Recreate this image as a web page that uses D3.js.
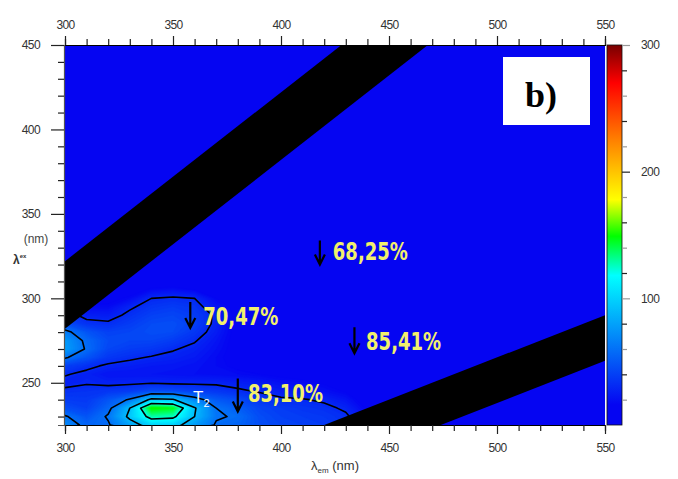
<!DOCTYPE html>
<html><head><meta charset="utf-8">
<script src="https://cdn.jsdelivr.net/npm/d3@7"></script>
<style>body{margin:0;background:#fff}svg{display:block}</style>
</head><body>
<svg id="c" width="678" height="479"></svg>
<script>
// ---------------- data ----------------
const emGrid = [300,310,320,330,340,350,360,370,380,390,400,410,420,430,440];
const exGrid = [225,230,235,240,245,250,255,260,265,270,275,280,285,290,295,300,305,310];
const backgroundIntensity = 8;
// intensity columns, one per emission wavelength (values for exGrid, bottom -> top)
const em300 = [70,62,45,38,33,26,31,40,62,78,76,65,45,36,32,28,20,12];
const em310 = [55,48,40,37,34,29,27,33,48,58,56,48,34,26,18,12,10,8];
const em320 = [58,62,55,48,36,27,22,28,36,42,44,40,32,25,18,12,10,8];
const em330 = [80,95,90,62,38,28,22,26,32,38,42,42,38,33,28,18,10,8];
const em340 = [100,128,150,95,45,29,22,24,29,36,42,45,44,40,35,30,18,8];
const em350 = [98,125,145,92,44,28,21,23,27,31,38,44,45,42,38,32,20,8];
const em360 = [78,90,92,68,40,28,20,21,24,27,31,36,40,38,35,30,16,8];
const em370 = [58,62,60,50,36,28,19,18,18,20,22,25,27,28,22,16,10,8];
const em380 = [55,58,52,44,32,26,18,14,12,12,12,12,12,12,12,10,8,8];
const em390 = [46,45,42,36,29,24,16,12,10,10,10,10,10,10,10,8,8,8];
const em400 = [42,40,38,32,25,20,14,10,9,9,9,9,9,9,8,8,8,8];
const em410 = [40,38,35,31,22,18,12,10,9,9,8,8,8,8,8,8,8,8];
const em420 = [38,36,33,28,20,15,10,9,8,8,8,8,8,8,8,8,8,8];
const em430 = [34,32,28,22,15,12,10,8,8,8,8,8,8,8,8,8,8,8];
const em440 = [25,20,14,10,8,8,8,8,8,8,8,8,8,8,8,8,8,8];
const intensityColumns = [em300,em310,em320,em330,em340,em350,em360,em370,em380,em390,em400,em410,em420,em430,em440];
const contourLevels = [30,60,90,120];

// Rayleigh scatter bands: ex = em/order + offset (lo..hi)
const bandOrder = [1, 2];
const bandLo = [-18, -12];
const bandHi = [22, 15];

// colour scale stops
const colorStopValues = [0,16,118,149,178,225,270,300];
const colorStopColors = ["#0505f2","#0505f2","#00ffff","#00ff00","#ffff00","#ff8000","#ff0000","#780000"];

const xTicks = [300,310,320,330,340,350,360,370,380,390,400,410,420,430,440,450,460,470,480,490,500,510,520,530,540,550];
const yTicks = [230,240,250,260,270,280,290,300,310,320,330,340,350,360,370,380,390,400,410,420,430,440,450];
const cTicks = [20,40,60,80,100,120,140,160,180,200,220,240,260,280,300];

const annText = ["68,25%","70,47%","85,41%","83,10%"];
const annArrowEm = [418,358,434,380];
const annArrowEx = [320,282.5,267.5,233];
const annArrowLen = [24,26,26,33];
const annTextEm = [424,364,439.4,384.7];
const annTextEx = [322.7,284.2,269.4,238.6];
const t2Em = 359.3, t2Ex = 238;

// ---------------- layout ----------------
const svg = d3.select("#c");
const L = 65, R = 605, T = 45, B = 425;
const x = d3.scaleLinear().domain([300,550]).range([L,R]);
const y = d3.scaleLinear().domain([225,450]).range([B,T]);
const color = d3.scaleLinear().domain(colorStopValues).range(colorStopColors).clamp(true);

svg.append("defs").append("clipPath").attr("id","plotclip")
  .append("rect").attr("x",L).attr("y",T).attr("width",R-L).attr("height",B-T);

const plot = svg.append("g").attr("clip-path","url(#plotclip)");
plot.append("rect").attr("x",L).attr("y",T).attr("width",R-L).attr("height",B-T)
  .attr("fill", color(backgroundIntensity));

// build row-major grid
const nx = emGrid.length, ny = exGrid.length;
const values = new Array(nx*ny);
for (let j=0;j<ny;j++) for (let i=0;i<nx;i++) values[j*nx+i] = intensityColumns[i][j];
const dEm = emGrid[1]-emGrid[0], dEx = exGrid[1]-exGrid[0];
const proj = d3.geoTransform({point: function(px,py){
  this.stream.point(x(emGrid[0]+(px-0.5)*dEm), y(exGrid[0]+(py-0.5)*dEx));
}});
const path = d3.geoPath(proj);

const fillThresholds = d3.range(16, 160, 2);
const fills = d3.contours().size([nx,ny]).thresholds(fillThresholds)(values);
plot.append("g").selectAll("path").data(fills).join("path")
  .attr("d", path).attr("fill", d => color(d.value + 1)).attr("stroke", d => color(d.value + 1)).attr("stroke-width",0.5);

const lines = d3.contours().size([nx,ny]).thresholds(contourLevels)(values);
plot.append("g").selectAll("path").data(lines).join("path")
  .attr("d", path).attr("fill","none").attr("stroke","#000").attr("stroke-width",1.6).attr("stroke-linejoin","round");

// scatter bands
bandOrder.forEach((o,k) => {
  const e0 = 300, e1 = 560;
  const pts = [[e0, e0/o + bandLo[k]],[e1, e1/o + bandLo[k]],[e1, e1/o + bandHi[k]],[e0, e0/o + bandHi[k]]];
  plot.append("path").attr("d", "M" + pts.map(p => x(p[0]) + "," + y(p[1])).join("L") + "Z").attr("fill","#000");
});

// white separator at plot right edge
svg.append("line").attr("x1",R+1).attr("x2",R+1).attr("y1",T).attr("y2",B).attr("stroke","#f4f4ff").attr("stroke-width",1.5);

// ---------------- axes ----------------
const tickFont = "'Liberation Sans', Arial, sans-serif";
function styleAxis(g) {
  g.select(".domain").attr("stroke","#000").attr("stroke-width",1.2);
  g.selectAll(".tick line").attr("stroke","#222").attr("stroke-width",1.2);
  g.selectAll(".tick text").attr("font-family",tickFont).attr("font-size",12).attr("fill","#333").attr("letter-spacing","-0.6");
}
const fmt = d => d % 50 === 0 ? d : "";

const gTop = svg.append("g").attr("transform",`translate(0,${T})`)
  .call(d3.axisTop(x).tickValues(xTicks).tickFormat(fmt).tickSizeOuter(0).tickSize(6).tickPadding(10));
styleAxis(gTop);
gTop.selectAll(".tick line").attr("y2", d => d%50===0 ? -9 : -6);

const gBot = svg.append("g").attr("transform",`translate(0,${B})`)
  .call(d3.axisBottom(x).tickValues(xTicks).tickFormat(fmt).tickSizeOuter(0).tickSize(6).tickPadding(12));
styleAxis(gBot);
gBot.selectAll(".tick line").attr("y2", d => d%50===0 ? 9 : 6);

const gLeft = svg.append("g").attr("transform",`translate(${L-1},0)`)
  .call(d3.axisLeft(y).tickValues(yTicks).tickFormat(fmt).tickSizeOuter(0).tickSize(6).tickPadding(18));
styleAxis(gLeft);
gLeft.selectAll(".tick line").attr("x2", d => d%50===0 ? -13 : -6);
gLeft.select(".domain").attr("stroke","#555");

// ---------------- colorbar ----------------
const cbX = 607, cbW = 15;
const cy = d3.scaleLinear().domain([0,300]).range([B,T]);
const grad = svg.select("defs").append("linearGradient").attr("id","cbgrad")
  .attr("x1",0).attr("y1",1).attr("x2",0).attr("y2",0);
colorStopValues.forEach((v,i) => grad.append("stop").attr("offset", v/300).attr("stop-color", colorStopColors[i]));
svg.append("rect").attr("x",cbX).attr("y",T).attr("width",cbW).attr("height",B-T)
  .attr("fill","url(#cbgrad)").attr("stroke","#111").attr("stroke-width",0.8);
const gCb = svg.append("g").attr("transform",`translate(${cbX+cbW},0)`)
  .call(d3.axisRight(cy).tickValues(cTicks).tickFormat(d => d%100===0 ? d : "").tickSizeOuter(0).tickSize(5).tickPadding(14));
gCb.select(".domain").remove();
gCb.selectAll(".tick line").attr("stroke", d => d%40===0 ? "#222" : "#999").attr("stroke-width",1.2)
  .attr("x2", d => d%100===0 ? 8 : 5);
gCb.selectAll(".tick text").attr("font-family",tickFont).attr("font-size",12).attr("fill","#333").attr("letter-spacing","-0.6");

// ---------------- axis titles ----------------
const bt = svg.append("text").attr("x",335).attr("y",470).attr("text-anchor","middle")
  .attr("font-family",tickFont).attr("font-size",13).attr("fill","#333");
bt.append("tspan").text("λ");
bt.append("tspan").attr("font-size",8).attr("dy",3).text("em");
bt.append("tspan").attr("dy",-3).text(" (nm)");

svg.append("text").attr("x",36).attr("y",243).attr("text-anchor","middle")
  .attr("font-family",tickFont).attr("font-size",12).attr("fill","#444").text("(nm)");
const lt = svg.append("text").attr("x",13).attr("y",264).attr("font-family",tickFont).attr("font-size",12).attr("font-weight","bold").attr("fill","#333");
lt.append("tspan").text("λ");
lt.append("tspan").attr("font-size",6).attr("dy",-6).text("ex");

// ---------------- annotations ----------------
const ann = svg.append("g");
annText.forEach((t,i) => {
  const ax = x(annArrowEm[i]), ay = y(annArrowEx[i]);
  ann.append("path")
    .attr("d", `M${ax},${ay-annArrowLen[i]}L${ax},${ay}M${ax-5},${ay-10}L${ax},${ay}L${ax+5},${ay-10}`)
    .attr("fill","none").attr("stroke","#000").attr("stroke-width",2.2);
  ann.append("text").attr("x", x(annTextEm[i])).attr("y", y(annTextEx[i]))
    .attr("font-family","'Liberation Sans Narrow','DejaVu Sans Condensed','Liberation Sans',sans-serif")
    .attr("font-weight","bold").attr("font-size",24).attr("fill","#f2f06c")
    .attr("textLength",75).attr("lengthAdjust","spacingAndGlyphs").text(t);
});
const t2 = ann.append("text").attr("x", x(t2Em)).attr("y", y(t2Ex))
  .attr("font-family","'Liberation Sans',sans-serif").attr("font-size",17).attr("fill","#fff");
t2.append("tspan").text("T");
t2.append("tspan").attr("font-size",11).attr("dy",4).text("2");

// ---------------- panel label ----------------
svg.append("rect").attr("x",503).attr("y",57).attr("width",87).attr("height",68).attr("fill","#fff");
svg.append("text").attr("x",525).attr("y",107).attr("font-family","'Liberation Serif','Times New Roman',serif")
  .attr("font-weight","bold").attr("font-size",36).attr("fill","#000").text("b)");
</script>
</body></html>
